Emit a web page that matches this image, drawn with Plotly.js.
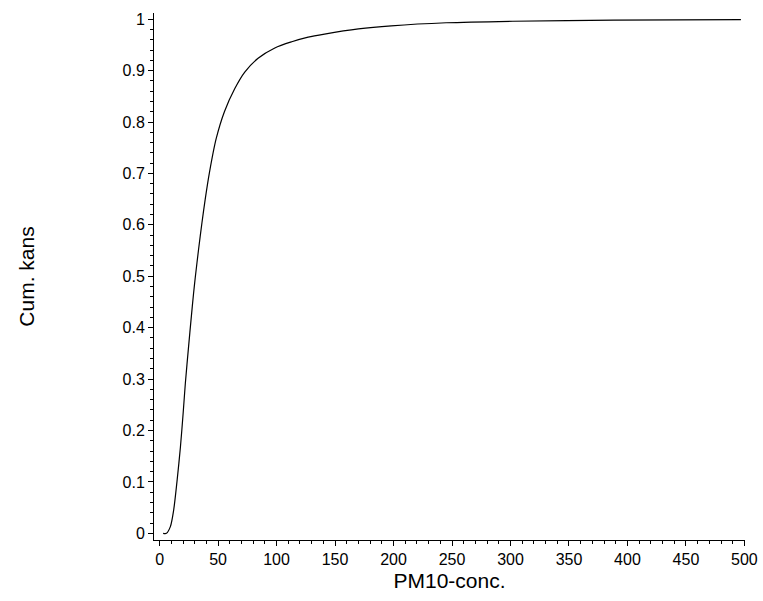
<!DOCTYPE html>
<html>
<head>
<meta charset="utf-8">
<script src="https://cdn.plot.ly/plotly-3.0.1.min.js"></script>
<style>html,body{margin:0;padding:0;background:#fff;}#chart{width:763px;height:601px;}</style>
</head>
<body>
<div id="chart"></div>
<script>
// PM10 concentration (x) and cumulative probability (y)
const pm10 = [3, 5.8, 9.2, 12, 15, 17.8, 20.2, 22, 24.8, 27.1, 29, 30.5, 33.3, 36.2, 39, 42.7, 48.3, 55.4, 64.3, 72.8, 84.2, 98.5, 113, 127, 141, 170, 198, 245, 302, 388, 497];
const cumKans = [0, 0, 0.013, 0.045, 0.104, 0.168, 0.236, 0.292, 0.364, 0.421, 0.466, 0.498, 0.552, 0.604, 0.65, 0.703, 0.767, 0.82, 0.865, 0.897, 0.924, 0.944, 0.956, 0.965, 0.971, 0.981, 0.987, 0.993, 0.996, 0.998, 0.999];

const xTitle = "PM10-conc.";
const yTitle = "Cum. kans";

const font = {family: "Liberation Sans, Arial, sans-serif", color: "#000"};

Plotly.newPlot("chart", [{
  x: pm10,
  y: cumKans,
  type: "scatter",
  mode: "lines",
  line: {color: "#000", width: 1.2, shape: "spline", smoothing: 0.8},
  hoverinfo: "x+y"
}], {
  width: 763,
  height: 601,
  paper_bgcolor: "#fff",
  plot_bgcolor: "#fff",
  showlegend: false,
  margin: {l: 154, r: 18, t: 13, b: 61},
  font: font,
  xaxis: {
    range: [-4.8, 500.5],
    showgrid: false,
    zeroline: false,
    showline: true,
    linecolor: "#000",
    linewidth: 1,
    ticks: "outside",
    ticklen: 5,
    tickcolor: "#000",
    tick0: 0,
    dtick: 50,
    tickfont: {family: font.family, size: 16, color: "#000"},
    minor: {dtick: 10, tick0: 0, ticks: "outside", ticklen: 3, tickcolor: "#000", showgrid: false},
    title: {text: xTitle, font: {family: font.family, size: 21, color: "#000"}, standoff: 6},
    automargin: false
  },
  yaxis: {
    range: [-0.013, 1.012],
    showgrid: false,
    zeroline: false,
    showline: true,
    linecolor: "#000",
    linewidth: 1,
    ticks: "outside",
    ticklen: 5,
    tickcolor: "#000",
    tick0: 0,
    dtick: 0.1,
    tickfont: {family: font.family, size: 16, color: "#000"},
    minor: {dtick: 0.02, tick0: 0, ticks: "outside", ticklen: 3, tickcolor: "#000", showgrid: false},
    title: {text: yTitle, font: {family: font.family, size: 21, color: "#000"}, standoff: 82},
    automargin: false
  }
}, {displayModeBar: false, staticPlot: true});
</script>
</body>
</html>
